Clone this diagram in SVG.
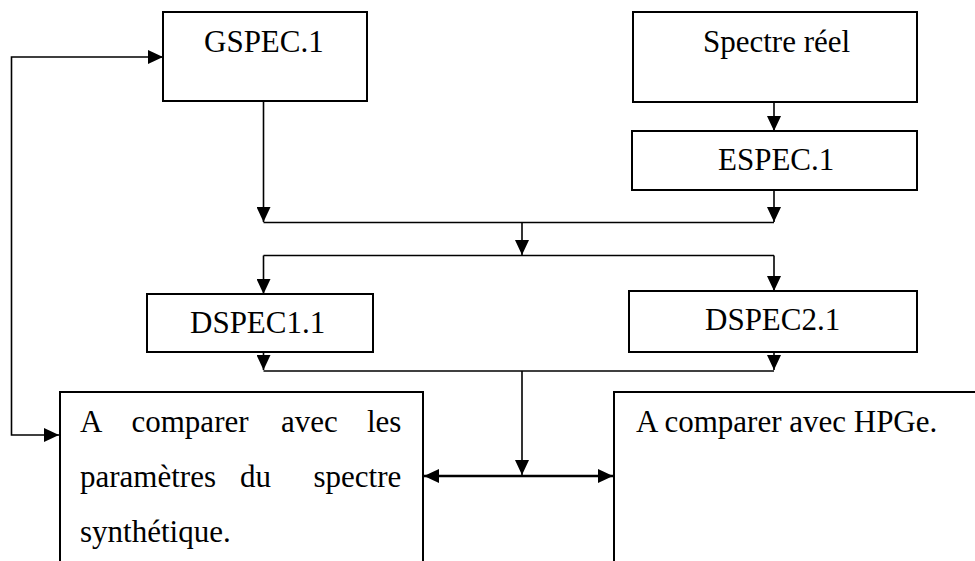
<svg xmlns="http://www.w3.org/2000/svg" width="975" height="561" viewBox="0 0 975 561">
<defs>
<marker id="ah" markerUnits="userSpaceOnUse" markerWidth="15" markerHeight="14" refX="15" refY="7" orient="auto-start-reverse" viewBox="0 0 15 14">
<path d="M0,0 L15,7 L0,14 Z" fill="#000"/>
</marker>
<style>
.box{fill:#fff;stroke:#000;stroke-width:2}
.t{font-family:"Liberation Serif","Times New Roman",serif;font-size:31px;fill:#000}
.c{fill:none;stroke:#000;stroke-width:1.6}
.a{marker-end:url(#ah)}
</style>
</defs>
<rect width="975" height="561" fill="#fff"/>
<g id="connectors">
<polyline class="c a" points="59,435 11.5,435 11.5,57 163,57" marker-start="url(#ah)"/>
<line class="c a" x1="263.5" y1="101" x2="263.5" y2="222"/>
<line class="c a" x1="774" y1="102" x2="774" y2="131"/>
<line class="c a" x1="774" y1="190" x2="774" y2="222"/>
<line class="c" x1="263.5" y1="222.5" x2="774" y2="222.5"/>
<line class="c a" x1="522" y1="222.5" x2="522" y2="255"/>
<line class="c" x1="263.5" y1="255.5" x2="774" y2="255.5"/>
<line class="c a" x1="263.5" y1="255.5" x2="263.5" y2="294"/>
<line class="c a" x1="774" y1="255.5" x2="774" y2="291"/>
<line class="c a" x1="263.5" y1="352" x2="263.5" y2="370"/>
<line class="c a" x1="774" y1="352" x2="774" y2="370"/>
<line class="c" x1="263.5" y1="371" x2="774" y2="371"/>
<line class="c a" x1="522" y1="371" x2="522" y2="475"/>
<line x1="424" y1="476" x2="613" y2="476" stroke="#000" stroke-width="2.6" marker-start="url(#ah)" marker-end="url(#ah)"/>
</g>
<g id="gspec">
<rect class="box" x="163" y="12" width="204" height="89"/>
<text class="t" x="204" y="52">GSPEC.1</text>
</g>
<g id="spectre-reel">
<rect class="box" x="633" y="12" width="284" height="90"/>
<text class="t" x="703" y="52">Spectre réel</text>
</g>
<g id="espec">
<rect class="box" x="632" y="131" width="285" height="59"/>
<text class="t" x="718" y="170">ESPEC.1</text>
</g>
<g id="dspec1">
<rect class="box" x="147" y="294" width="226" height="58"/>
<text class="t" x="190" y="333">DSPEC1.1</text>
</g>
<g id="dspec2">
<rect class="box" x="629" y="291" width="288" height="61"/>
<text class="t" x="705" y="330">DSPEC2.1</text>
</g>
<g id="compare-synth">
<rect class="box" x="60" y="392" width="363" height="190"/>
<text class="t" y="432"><tspan x="80">A</tspan><tspan x="131.5">comparer</tspan><tspan x="281">avec</tspan><tspan x="367">les</tspan></text>
<text class="t" y="487"><tspan x="80">paramètres</tspan><tspan x="240">du</tspan><tspan x="313.5">spectre</tspan></text>
<text class="t" x="80" y="542">synthétique.</text>
</g>
<g id="compare-hpge">
<rect class="box" x="614" y="392" width="380" height="190"/>
<text class="t" x="636" y="432">A comparer avec HPGe.</text>
</g>
</svg>
